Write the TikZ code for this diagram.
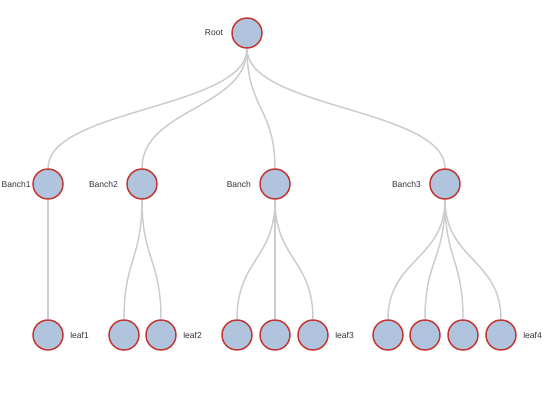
\documentclass[tikz,border=0pt]{standalone}
\usepackage{fontspec}
\setmainfont{Liberation Sans}
\usetikzlibrary{calc,backgrounds}
\definecolor{nodefill}{RGB}{176,196,222}
\definecolor{nodeline}{RGB}{194,53,49}
\definecolor{edgegray}{RGB}{204,204,204}
\definecolor{labeltext}{RGB}{51,51,51}
\tikzset{
  treenode/.style={circle,draw=nodeline,fill=nodefill,line width=1.1pt,minimum size=22.5pt,inner sep=0pt},
  tagleft/.style={label={[font=\fontsize{6.4}{7.5}\selectfont,text=labeltext,label distance=2.7pt]left:#1}},
  tagright/.style={label={[font=\fontsize{6.4}{7.5}\selectfont,text=labeltext,label distance=1.4pt]right:#1}},
  treeedge/.style={edgegray,line width=1.1pt}
}
\newcommand{\branchlink}[2]{\draw[treeedge] (#1) .. controls ($(#1)!0.5!(#1|-#2)$) and ($(#2)!0.5!(#2|-#1)$) .. (#2);}

\begin{document}
\begin{tikzpicture}[x=0.75pt,y=-0.75pt]
\useasboundingbox (0,0) rectangle (550,420);
% root and branches
\node[treenode,tagleft=Root] (root) at (247,33) {};
\node[treenode,label={[font=\fontsize{6.4}{7.5}\selectfont,text=labeltext,label distance=0pt,inner sep=1pt]left:Banch1}] (b1) at (48,184) {};
\node[treenode,tagleft=Banch2] (b2) at (142,184) {};
\node[treenode,tagleft=Banch] (b0) at (275,184) {};
\node[treenode,tagleft=Banch3] (b3) at (445,184) {};
% leaves
\node[treenode,tagright=leaf1] (l11) at (48,335) {};
\node[treenode] (l21) at (124,335) {};
\node[treenode,tagright=leaf2] (l22) at (161,335) {};
\node[treenode] (l01) at (237,335) {};
\node[treenode] (l02) at (275,335) {};
\node[treenode,tagright=leaf3] (l03) at (313,335) {};
\node[treenode] (l31) at (388,335) {};
\node[treenode] (l32) at (425,335) {};
\node[treenode] (l33) at (463,335) {};
\node[treenode,tagright=leaf4] (l34) at (501,335) {};
% links
\begin{scope}[on background layer]
\foreach \c in {b1,b2,b0,b3} {\branchlink{root}{\c}}
\branchlink{b1}{l11}
\foreach \c in {l21,l22} {\branchlink{b2}{\c}}
\foreach \c in {l01,l02,l03} {\branchlink{b0}{\c}}
\foreach \c in {l31,l32,l33,l34} {\branchlink{b3}{\c}}
\end{scope}
\end{tikzpicture}
\end{document}
